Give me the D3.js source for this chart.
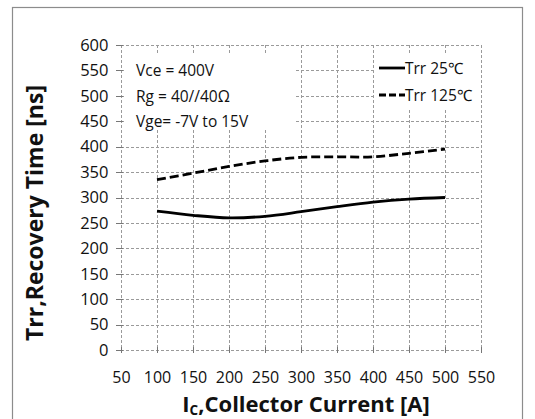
<!DOCTYPE html>
<html><head><meta charset="utf-8">
<script src="https://cdn.jsdelivr.net/npm/d3@7"></script>
<style>body{margin:0;background:#fff}svg{display:block}text{font-family:"Open Sans",sans-serif;fill:#111}</style>
</head><body><div id="c"></div>
<script>
const current = [100,150,200,250,300,350,400,450,500];
const trr25 = [273,265,260,263,272,282,291,297,300];
const trr125 = [335,348,361,372,379,380,380,387,395];
const xTicks = [50,100,150,200,250,300,350,400,450,500,550];
const yTicks = [0,50,100,150,200,250,300,350,400,450,500,550,600];
const seriesNames = ["Trr 25\u2103","Trr 125\u2103"];
const notes = ["Vce = 400V","Rg = 40//40\u03a9","Vge= -7V to 15V"];

const W=535,H=419;
const m={l:121,r:481,t:45,b:350};
const svg=d3.select("#c").append("svg").attr("width",W).attr("height",H);
svg.append("rect").attr("x",12.5).attr("y",7.5).attr("width",510).attr("height",420).attr("fill","#fff").attr("stroke","#8c8c8c").attr("stroke-width",1.2);

const x=d3.scaleLinear().domain([50,550]).range([m.l,m.r]);
const y=d3.scaleLinear().domain([0,600]).range([m.b,m.t]);
const g=svg.append("g");
const gridC="#9a9a9a";
g.selectAll(".hg").data(yTicks).enter().append("line")
 .attr("x1",m.l).attr("x2",m.r).attr("y1",d=>Math.round(y(d))+0.5).attr("y2",d=>Math.round(y(d))+0.5)
 .attr("stroke",gridC).attr("stroke-dasharray","3,2");
g.selectAll(".vg").data(xTicks).enter().append("line")
 .attr("y1",m.t).attr("y2",m.b).attr("x1",d=>Math.round(x(d))+0.5).attr("x2",d=>Math.round(x(d))+0.5)
 .attr("stroke",gridC).attr("stroke-dasharray","3,2");

// axes
const xa=d3.axisBottom(x).tickValues(xTicks).tickSize(0).tickPadding(21);
const ya=d3.axisLeft(y).tickValues(yTicks).tickSize(0).tickPadding(13);
const gx=svg.append("g").attr("transform",`translate(0,${Math.round(y(0))+0.5})`).call(xa);
const gy=svg.append("g").attr("transform",`translate(${Math.round(x(50))+0.5},0)`).call(ya);
gy.selectAll("text").attr("font-size",16.5);
gx.selectAll("text").attr("font-size",16);
[gx,gy].forEach(a=>{a.select(".domain").remove();a.selectAll("text").attr("font-family","Open Sans").attr("fill","#111");});
// small tick marks crossing axes
svg.selectAll(".xt").data(xTicks).enter().append("line")
 .attr("x1",d=>Math.round(x(d))+0.5).attr("x2",d=>Math.round(x(d))+0.5)
 .attr("y1",y(0)-3).attr("y2",y(0)+3).attr("stroke","#777");
svg.selectAll(".yt").data(yTicks).enter().append("line")
 .attr("y1",d=>Math.round(y(d))+0.5).attr("y2",d=>Math.round(y(d))+0.5)
 .attr("x1",x(50)-5).attr("x2",x(50)+2).attr("stroke","#777");

// annotation box
svg.append("rect").attr("x",126).attr("y",53).attr("width",168).attr("height",77).attr("fill","#fff");
svg.selectAll(".note").data(notes).enter().append("text")
 .attr("x",136).attr("y",(d,i)=>76+i*25.5).attr("font-size",15.5).text(d=>d);

// legend
svg.append("rect").attr("x",376).attr("y",53).attr("width",103).attr("height",56).attr("fill","#fff");
const leg=[{y:68,dash:null},{y:95,dash:"7,3"}];
leg.forEach((l,i)=>{
 svg.append("line").attr("x1",379).attr("x2",405).attr("y1",l.y).attr("y2",l.y)
   .attr("stroke","#000").attr("stroke-width",2.8).attr("stroke-dasharray",l.dash);
 svg.append("text").attr("x",405).attr("y",l.y+6).attr("font-size",15.5).text(seriesNames[i]);
});

// series
const line=d3.line().x(d=>x(d[0])).y(d=>y(d[1])).curve(d3.curveCatmullRom);
svg.append("path").datum(current.map((c,i)=>[c,trr25[i]])).attr("d",line)
 .attr("fill","none").attr("stroke","#000").attr("stroke-width",2.8);
svg.append("path").datum(current.map((c,i)=>[c,trr125[i]])).attr("d",line)
 .attr("fill","none").attr("stroke","#000").attr("stroke-width",2.8).attr("stroke-dasharray","9,4");

// titles
const xt=svg.append("text").attr("x",306).attr("y",412).attr("text-anchor","middle").attr("font-size",22).attr("font-weight","bold");
xt.append("tspan").text("I");
xt.append("tspan").attr("font-size",13.5).attr("dy",3).text("C");
xt.append("tspan").attr("dy",-3).text(",Collector Current [A]");
svg.append("text").attr("transform","translate(43,213) rotate(-90)").attr("text-anchor","middle")
 .attr("font-size",23).attr("font-weight","bold").text("Trr,Recovery Time [ns]");
</script></body></html>
